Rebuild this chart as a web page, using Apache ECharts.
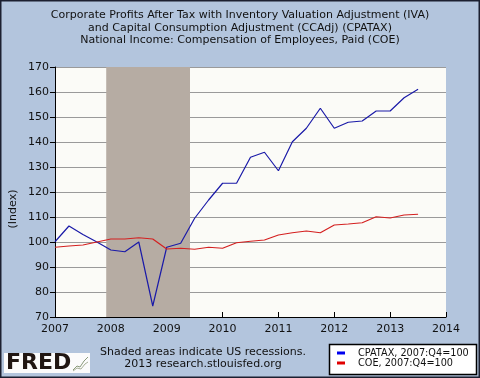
<!DOCTYPE html>
<html><head><meta charset="utf-8">
<script src="https://cdn.jsdelivr.net/npm/echarts@6/dist/echarts.min.js"></script>
<style>html,body{margin:0;padding:0;background:#b3c5dd}#c{width:480px;height:378px}</style>
</head><body><div id="c"></div>
<script>
const startYear = 2007;
const cpatax = [100.1, 106.4, 103, 100, 96.8, 96.1, 100, 74.4, 97.9, 99.5, 109.5, 116.8, 123.5, 123.5, 133.9, 135.9, 128.5, 140.1, 145.5, 153.5, 145.5, 147.9, 148.4, 152.4, 152.4, 157.7, 161.1];
const coe = [97.9, 98.4, 98.8, 100, 101.2, 101.2, 101.7, 101.2, 97.2, 97.5, 97.1, 97.9, 97.5, 99.7, 100.3, 100.8, 102.8, 103.7, 104.4, 103.7, 106.8, 107.2, 107.7, 110.1, 109.6, 110.8, 111.1];
const recession = [2007.917, 2009.417];
const titleLines = ['Corporate Profits After Tax with Inventory Valuation Adjustment (IVA)', 'and Capital Consumption Adjustment (CCAdj) (CPATAX)', 'National Income: Compensation of Employees, Paid (COE)'];
const seriesNames = ['CPATAX, 2007:Q4=100', 'COE, 2007:Q4=100'];
const seriesColors = ['#1a1aa8', '#d42020'];
const legendColors = ['#0000ee', '#e00000'];

const toPairs = arr => arr.map((v, i) => [startYear + i * 0.25, v]);
const FONT = 'DejaVu Sans';

const chart = echarts.init(document.getElementById('c'), null, {renderer: 'canvas'});
chart.setOption({
  backgroundColor: '#b3c5dd',
  animation: false,
  textStyle: {fontFamily: FONT},
  title: {
    text: titleLines.join('\n'),
    left: 'center', top: 4,
    textStyle: {fontFamily: FONT, fontSize: 11, fontWeight: 'normal', color: '#111', lineHeight: 12.5}
  },
  grid: {left: 55, right: 34, top: 67, bottom: 61, show: true, backgroundColor: '#fbfbf7', borderWidth: 0},
  xAxis: {
    type: 'value', min: 2007, max: 2014, interval: 1,
    axisLine: {lineStyle: {color: '#000', width: 1}},
    axisTick: {inside: true, length: 5, lineStyle: {color: '#000'}},
    axisLabel: {fontSize: 11, color: '#111', margin: 7, fontFamily: FONT, formatter: v => String(v)},
    splitLine: {show: false}
  },
  yAxis: {
    type: 'value', min: 70, max: 170, interval: 10,
    axisLine: {show: true, lineStyle: {color: '#000', width: 1}},
    axisTick: {show: true, length: 5, lineStyle: {color: '#000'}},
    axisLabel: {fontSize: 11, color: '#111', margin: 6, fontFamily: FONT},
    splitLine: {lineStyle: {color: '#9a9a9a', width: 1}}
  },
  series: [
    {
      type: 'line', name: 'recession', data: [], z: 1,
      markArea: {silent: true, itemStyle: {color: '#b6aca3'}, data: [[{xAxis: recession[0]}, {xAxis: recession[1]}]]}
    },
    {type: 'line', name: seriesNames[0], data: toPairs(cpatax), showSymbol: false, z: 3,
     lineStyle: {color: seriesColors[0], width: 1.2}, itemStyle: {color: legendColors[0]}},
    {type: 'line', name: seriesNames[1], data: toPairs(coe), showSymbol: false, z: 3,
     lineStyle: {color: seriesColors[1], width: 1.2}, itemStyle: {color: legendColors[1]}}
  ],
  legend: {
    data: seriesNames, orient: 'vertical', left: 332, top: 343, itemGap: 0,
    itemWidth: 8, itemHeight: 3, icon: 'rect',
    textStyle: {fontSize: 9.7, color: '#111', fontFamily: FONT, padding: [0, 0, 0, 8]}
  },
  graphic: [
    {type: 'rect', shape: {x: 0.5, y: 0.5, width: 479, height: 377}, style: {fill: 'none', stroke: '#1c2030', lineWidth: 2}, z: 100},
    {type: 'rect', shape: {x: 329.5, y: 344.5, width: 147, height: 30}, style: {fill: '#fff', stroke: '#000', lineWidth: 1.5}, z: -1},
    {type: 'text', x: 13, y: 209, rotation: Math.PI / 2, style: {text: '(Index)', font: '11px "DejaVu Sans"', fill: '#111', textAlign: 'center', textVerticalAlign: 'middle'}},
    {type: 'text', x: 203, y: 352, style: {text: 'Shaded areas indicate US recessions.', font: '11px "DejaVu Sans"', fill: '#111', textAlign: 'center', textVerticalAlign: 'middle'}},
    {type: 'text', x: 203, y: 364.5, style: {text: '2013 research.stlouisfed.org', font: '11px "DejaVu Sans"', fill: '#111', textAlign: 'center', textVerticalAlign: 'middle'}},
    {type: 'rect', shape: {x: 4, y: 353, width: 86, height: 20}, style: {fill: '#fbfbfb'}},
    {type: 'text', x: 6, y: 363.5, style: {text: 'FRED', font: 'bold 22px "DejaVu Sans"', fill: '#201612', textVerticalAlign: 'middle'}},
    {type: 'polyline', shape: {points: [[73, 370], [77, 366], [80, 367], [84, 361], [88, 357]]}, style: {stroke: '#8a9a7a', fill: 'none', lineWidth: 1}},
    {type: 'polyline', shape: {points: [[73, 371], [77, 368], [81, 369], [85, 364], [88, 362]]}, style: {stroke: '#a8b098', fill: 'none', lineWidth: 1}}
  ]
});
</script></body></html>
